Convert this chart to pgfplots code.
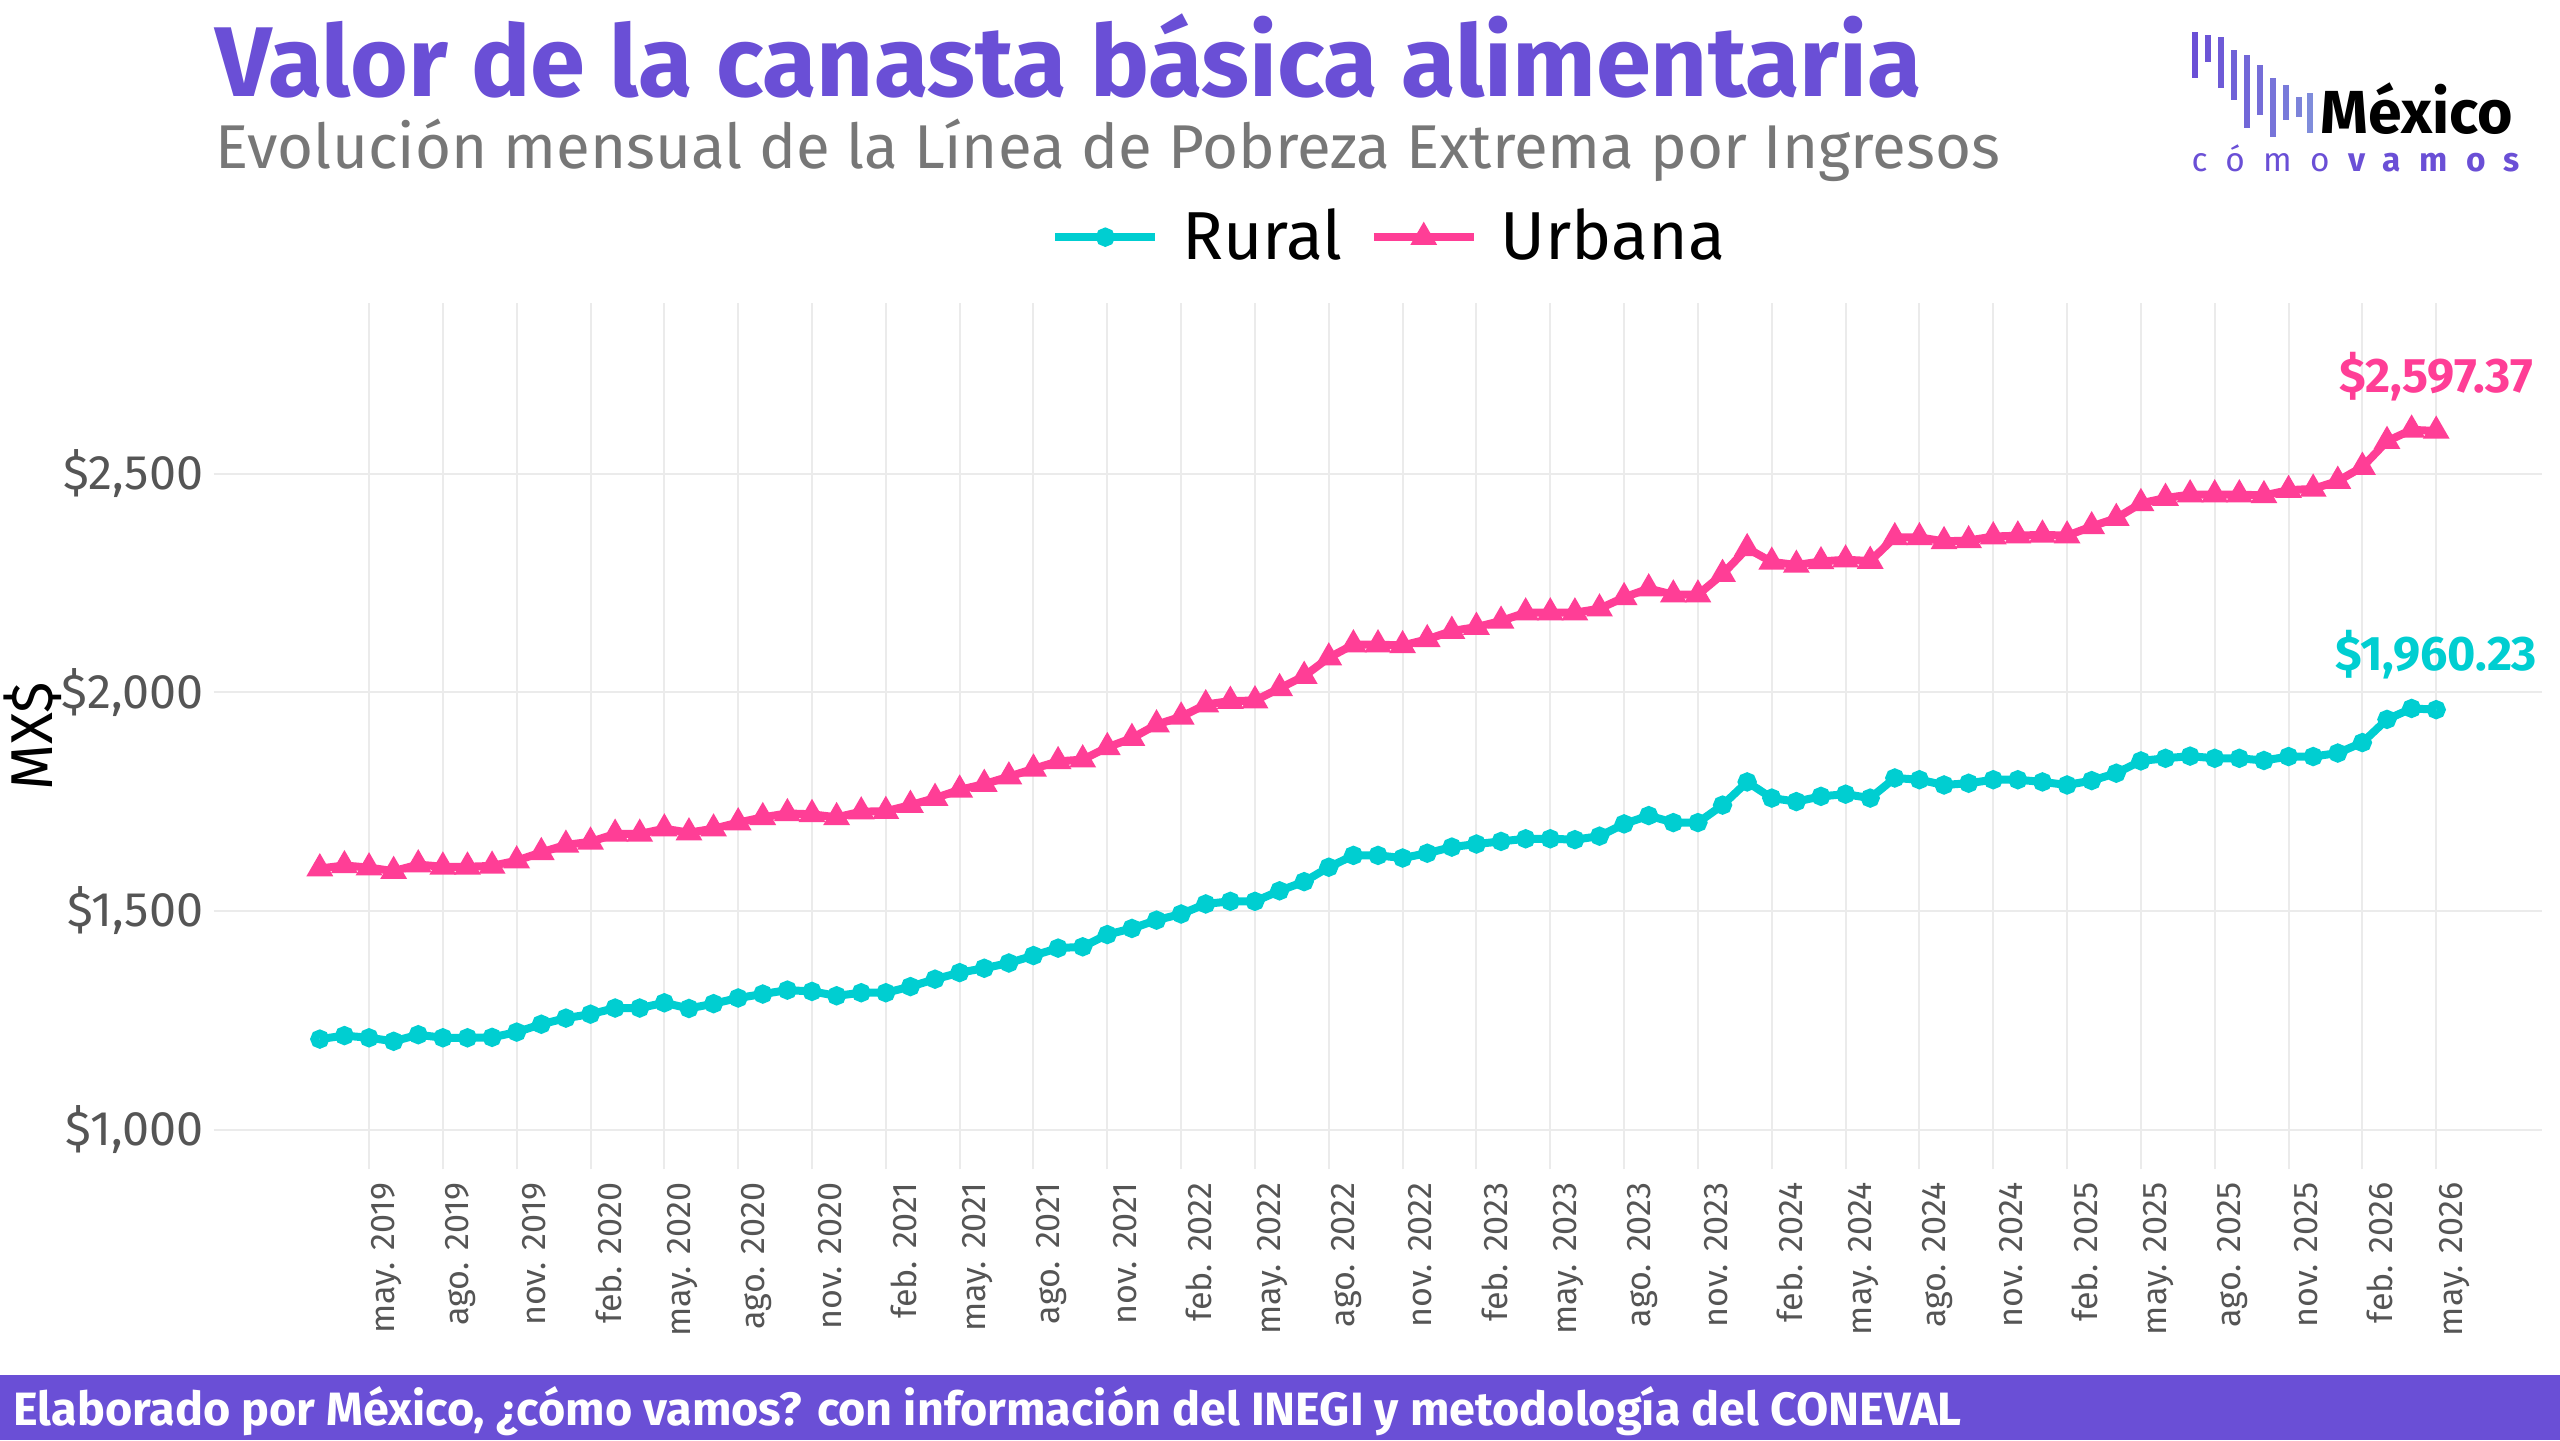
\documentclass[border=0pt]{standalone}
\usepackage{fontspec}
\setmainfont{Fira Sans}
\usepackage{pgfplots}
\pgfplotsset{compat=1.18}
\usepackage{pgfplotstable}

\definecolor{mcvpurple}{HTML}{6A4FD6}
\definecolor{mcvblue}{HTML}{7F8CDB}
\definecolor{rural}{HTML}{00CED1}
\definecolor{urbana}{HTML}{FF3E96}
\definecolor{gridgray}{HTML}{EBEBEB}
\definecolor{ticktext}{HTML}{555555}
\definecolor{subgray}{HTML}{777777}

% Monthly value of the food basket (MXN), index 0 = March 2019
\pgfplotstableread{
idx rural urbana
0  1207 1597
1  1215 1604
2  1210 1599
3  1202 1591
4  1217 1606
5  1210 1601
6  1210 1601
7  1211 1603
8  1223 1615
9  1241 1634
10 1255 1651
11 1264 1658
12 1278 1676
13 1278 1676
14 1290 1688
15 1277 1679
16 1288 1688
17 1301 1702
18 1310 1714
19 1319 1723
20 1316 1721
21 1306 1714
22 1313 1727
23 1313 1728
24 1327 1742
25 1344 1758
26 1359 1777
27 1369 1790
28 1381 1807
29 1398 1825
30 1415 1842
31 1418 1846
32 1446 1874
33 1460 1895
34 1479 1926
35 1493 1944
36 1516 1972
37 1522 1980
38 1522 1981
39 1546 2009
40 1567 2037
41 1600 2079
42 1627 2109
43 1627 2109
44 1621 2107
45 1632 2121
46 1646 2140
47 1653 2149
48 1659 2163
49 1665 2182
50 1665 2182
51 1663 2182
52 1671 2191
53 1699 2217
54 1718 2237
55 1702 2223
56 1702 2223
57 1742 2270
58 1795 2329
59 1758 2298
60 1750 2291
61 1762 2299
62 1767 2303
63 1758 2300
64 1804 2354
65 1800 2354
66 1788 2345
67 1792 2347
68 1800 2356
69 1800 2358
70 1795 2360
71 1788 2358
72 1798 2379
73 1815 2398
74 1843 2432
75 1849 2444
76 1854 2452
77 1849 2452
78 1849 2452
79 1844 2450
80 1853 2462
81 1853 2465
82 1861 2483
83 1885 2515
84 1938 2574
85 1963 2600
86 1960.23 2597.37
}\canasta

\begin{document}
\begin{tikzpicture}
% page frame
\fill[white] (0,0) rectangle (256mm,144mm);
\path[use as bounding box] (0,0) rectangle (256mm,144mm);

\begin{axis}[
  at={(21.4mm,27.1mm)}, anchor=south west,
  scale only axis, width=232.8mm, height=86.6mm,
  xmin=-4.3, xmax=90.3, ymin=910, ymax=2890,
  axis line style={draw=none}, tick style={draw=none},
  grid=major, grid style={color=gridgray, line width=0.2mm},
  xtick={2,5,...,86},
  xticklabels={may. 2019, ago. 2019, nov. 2019, feb. 2020, may. 2020, ago. 2020, nov. 2020, feb. 2021, may. 2021, ago. 2021, nov. 2021, feb. 2022, may. 2022, ago. 2022, nov. 2022, feb. 2023, may. 2023, ago. 2023, nov. 2023, feb. 2024, may. 2024, ago. 2024, nov. 2024, feb. 2025, may. 2025, ago. 2025, nov. 2025, feb. 2026, may. 2026},
  xticklabel style={rotate=90, anchor=east, inner sep=0pt, xshift=-1.3mm, yshift=-1.8mm, text=ticktext, font=\fontsize{9.7}{11}\selectfont},
  ytick={1000,1500,2000,2500},
  yticklabels={{\$1,000},{\$1,500},{\$2,000},{\$2,500}},
  yticklabel style={anchor=east, inner sep=0pt, xshift=-1mm, text=ticktext, font=\fontsize{13.8}{16}\selectfont},
  ylabel={MX\$},
  ylabel style={at={(axis description cs:-0.0777,0.5)}, anchor=center, font=\fontsize{16.8}{20}\selectfont},
  clip=false,
  legend columns=-1,
  legend style={at={(axis description cs:0.505,1.076)}, anchor=center, draw=none, fill=none,
    font=\fontsize{19.3}{23}\selectfont,
    /tikz/every odd column/.style={column sep=2.0mm},
    /tikz/every even column/.style={column sep=2.4mm},
    nodes={inner xsep=0.3mm}},
  legend image code/.code={\draw[#1, mark repeat=2, mark phase=2] plot coordinates {(0mm,0mm) (5mm,0mm) (10mm,0mm)};},
]
\addplot[color=rural, line width=0.8mm, mark=*, mark size=0.55mm,
  mark options={draw=none, fill=rural, fill opacity=0.85}] table[x=idx, y=rural] {\canasta};
\addlegendentry{Rural}
\addplot[color=urbana, line width=0.8mm, mark=triangle*, mark size=0.75mm,
  mark options={draw=none, fill=urbana, fill opacity=0.85}] table[x=idx, y=urbana] {\canasta};
\addlegendentry{Urbana}

\node[text=urbana, anchor=center, yshift=5.4mm, font=\fontsize{13.8}{16}\selectfont\bfseries] at (axis cs:86,2597.37) {\$2,597.37};
\node[text=rural, anchor=center, yshift=5.5mm, font=\fontsize{13.8}{16}\selectfont\bfseries] at (axis cs:86,1960.23) {\$1,960.23};
\end{axis}

% headings
\node[anchor=base west, inner sep=0pt, text=mcvpurple, font=\fontsize{28.2}{33}\selectfont\bfseries] at (21.5mm,134.33mm) {Valor de la canasta básica alimentaria};
\node[anchor=base west, inner sep=0pt, text=subgray, font=\fontsize{17.6}{21}\selectfont] at (21.5mm,127.1mm) {Evolución mensual de la Línea de Pobreza Extrema por Ingresos};

% logo
\begin{scope}[x=0.1mm, y=0.1mm]
\foreach \xc/\t/\b/\p in {2195/32/78/0, 2208/35/62/10, 2221/37/88/20, 2234/50/100/30, 2247/55/128/40, 2260/65/115/50, 2273/78/137/60, 2286/85/120/70, 2299/97/117/85, 2310/93/133/100}{
  \fill[mcvblue!\p!mcvpurple] (\xc-3,1440-\b) rectangle (\xc+3,1440-\t);
}
\end{scope}
\node[anchor=base west, inner sep=0pt, font=\fontsize{17.3}{20}\selectfont\bfseries] at (232.0mm,130.6mm) {México};
\node[anchor=base west, inner sep=0pt, text=mcvpurple, font=\fontsize{9.5}{11}\selectfont\addfontfeature{LetterSpace=55}] at (219.1mm,126.8mm) {cómo\textbf{vamos}};

% footer
\fill[mcvpurple] (0,0) rectangle (256mm,6.5mm);
\node[anchor=base west, inner sep=0pt, text=white, font=\fontsize{13.3}{16}\selectfont\bfseries] at (1.3mm,1.5mm) {Elaborado por México, ¿cómo vamos? con información del INEGI y metodología del CONEVAL};
\end{tikzpicture}
\end{document}
